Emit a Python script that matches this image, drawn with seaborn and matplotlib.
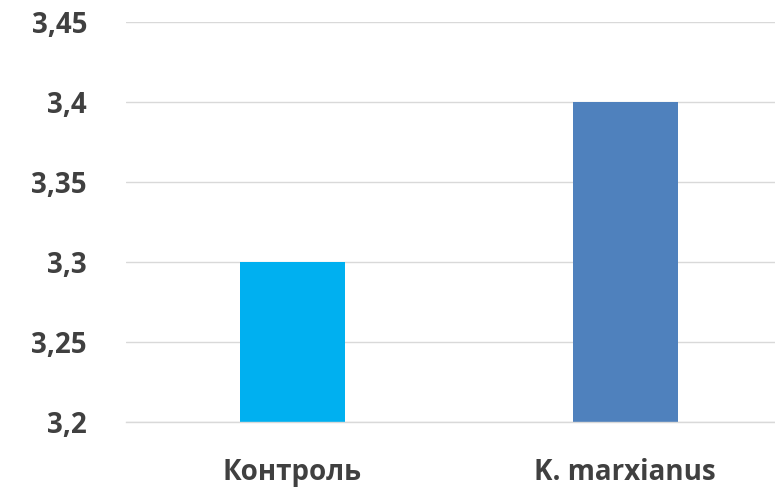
import matplotlib
matplotlib.use("Agg")
import matplotlib.pyplot as plt
import seaborn as sns
import pandas as pd

categories = ["Контроль", "K. marxianus"]
values = [3.3, 3.4]
colors = ["#00B0F0", "#4F81BD"]
yticks = [3.2, 3.25, 3.3, 3.35, 3.4, 3.45]
ytick_labels = ["3,2", "3,25", "3,3", "3,35", "3,4", "3,45"]

sns.set_theme(style="white")
plt.rcParams['font.family'] = ['Open Sans', 'DejaVu Sans']

df = pd.DataFrame({"cat": categories, "val": values})

fig = plt.figure(figsize=(7.75, 4.87), dpi=100)
ax = fig.add_axes([126/775, 65/487, (775-126)/775, 400/487])
ax.set_axisbelow(True)
ax.yaxis.grid(True, color="#D9D9D9", linewidth=1.0)
sns.barplot(data=df, x="cat", y="val", hue="cat", palette=colors, width=0.315,
            ax=ax, legend=False, saturation=1, linewidth=0)
ax.set_ylim(3.2, 3.45)
ax.set_xlim(-0.5, 1.45)
ax.set_yticks(yticks)
ax.set_yticklabels(ytick_labels)
ax.set_xlabel("")
ax.set_ylabel("")
for s in ["top", "right", "left"]:
    ax.spines[s].set_visible(False)
ax.spines["bottom"].set_color("#D9D9D9")
ax.spines["bottom"].set_linewidth(1.0)
ax.tick_params(axis="both", length=0, labelsize=20, colors="#404040")
ax.tick_params(axis="y", pad=28)
ax.tick_params(axis="x", pad=26)
for lab in ax.get_xticklabels() + ax.get_yticklabels():
    lab.set_fontweight("bold")
fig.savefig("out.png", dpi=100)
